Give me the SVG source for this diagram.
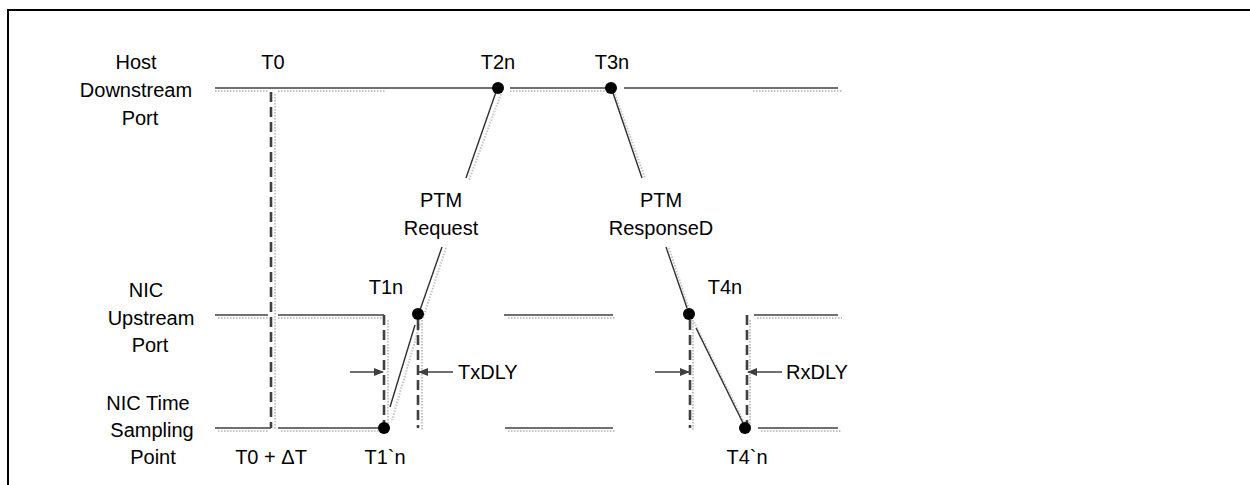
<svg xmlns="http://www.w3.org/2000/svg" width="1250" height="485" viewBox="0 0 1250 485">
<style>
text{font-family:"Liberation Sans",Arial,sans-serif;font-size:20px;fill:#000;text-anchor:middle}
.ln{stroke:#404040;stroke-width:1.6;fill:none}
.sh{stroke:#c4c4c4;stroke-width:2;stroke-dasharray:1.5 1.5;fill:none}
.dash{stroke:#404040;stroke-width:2.6;stroke-dasharray:10 5;fill:none}
.diag{stroke:#303030;stroke-width:1.4;fill:none}
.arr{stroke:#404040;stroke-width:1.6;fill:none;marker-end:url(#ah)}
.dot{fill:#000}
</style>
<defs>
<marker id="ah" viewBox="0 0 10 10" refX="9" refY="5" markerWidth="10" markerHeight="10" markerUnits="userSpaceOnUse" orient="auto">
<path d="M0,1 L10,5 L0,9 Z" fill="#404040"/>
</marker>
</defs>
<rect x="8" y="10" width="1260" height="500" fill="#fff" stroke="#000" stroke-width="2"/>

<g id="labels-left">
<text x="136" y="69">Host</text>
<text x="136" y="97">Downstream</text>
<text x="140" y="125">Port</text>
<text x="146" y="297">NIC</text>
<text x="151" y="325">Upstream</text>
<text x="150" y="352">Port</text>
<text x="148" y="410">NIC Time</text>
<text x="152" y="437">Sampling</text>
<text x="153" y="464">Point</text>
</g>

<g id="shadows">
<line class="sh" x1="215" y1="91" x2="268" y2="91"/>
<line class="sh" x1="278" y1="91" x2="385" y2="91"/>
<line class="sh" x1="510" y1="91" x2="605" y2="91"/>
<line class="sh" x1="753" y1="91" x2="842" y2="91"/>
<line class="sh" x1="218" y1="318" x2="268" y2="318"/>
<line class="sh" x1="278" y1="318" x2="386" y2="318"/>
<line class="sh" x1="508" y1="318" x2="615" y2="318"/>
<line class="sh" x1="757" y1="318" x2="842" y2="318"/>
<line class="sh" x1="218" y1="431" x2="268" y2="431"/>
<line class="sh" x1="281" y1="431" x2="386" y2="431"/>
<line class="sh" x1="508" y1="431" x2="615" y2="431"/>
<line class="sh" x1="761" y1="431" x2="842" y2="431"/>
<line class="sh" x1="275" y1="94" x2="275" y2="430"/>
<line class="sh" x1="388" y1="320" x2="388" y2="430"/>
<line class="sh" x1="422" y1="320" x2="422" y2="430"/>
<line class="sh" x1="693" y1="320" x2="693" y2="430"/>
<line class="sh" x1="750" y1="320" x2="750" y2="430"/>
<line class="sh" x1="501" y1="94" x2="469" y2="180"/>
<line class="sh" x1="446" y1="248" x2="423" y2="318"/>
<line class="sh" x1="420" y1="324" x2="392" y2="420"/>
<line class="sh" x1="615" y1="94" x2="645" y2="178"/>
<line class="sh" x1="669" y1="248" x2="692" y2="318"/>
<line class="sh" x1="694" y1="322" x2="749" y2="432"/>
</g>

<g id="timelines">
<line class="ln" x1="215" y1="88" x2="493" y2="88"/>
<line class="ln" x1="510" y1="88" x2="606" y2="88"/>
<line class="ln" x1="624" y1="88" x2="838" y2="88"/>
<line class="ln" x1="215" y1="315" x2="268" y2="315"/>
<line class="ln" x1="278" y1="315" x2="384" y2="315"/>
<line class="ln" x1="504" y1="315" x2="613" y2="315"/>
<line class="ln" x1="754" y1="315" x2="838" y2="315"/>
<line class="ln" x1="215" y1="428" x2="271" y2="428"/>
<line class="ln" x1="278" y1="428" x2="383" y2="428"/>
<line class="ln" x1="505" y1="428" x2="613" y2="428"/>
<line class="ln" x1="758" y1="428" x2="838" y2="428"/>
</g>

<g id="connectors">
<line class="dash" x1="271" y1="92" x2="271" y2="428"/>
<line class="dash" x1="384" y1="315" x2="384" y2="428"/>
<line class="dash" x1="418" y1="320" x2="418" y2="428"/>
<line class="dash" x1="690" y1="320" x2="690" y2="428"/>
<line class="dash" x1="747" y1="315" x2="747" y2="428"/>
<line class="diag" x1="496" y1="92" x2="466" y2="178"/>
<line class="diag" x1="442" y1="247" x2="420" y2="310"/>
<line class="diag" x1="415" y1="325" x2="390" y2="407"/>
<line class="diag" x1="613" y1="93" x2="642" y2="178"/>
<line class="diag" x1="666" y1="247" x2="687" y2="308"/>
<line class="diag" x1="696" y1="328" x2="743" y2="423"/>
<line class="arr" x1="350" y1="372" x2="383" y2="372"/>
<line class="arr" x1="453" y1="372" x2="419" y2="372"/>
<line class="arr" x1="655" y1="372" x2="689" y2="372"/>
<line class="arr" x1="782" y1="372" x2="748" y2="372"/>
</g>

<g id="T0"><text x="273" y="69">T0</text></g>
<g id="T2n"><circle class="dot" cx="498" cy="88" r="6"/><text x="498" y="69">T2n</text></g>
<g id="T3n"><circle class="dot" cx="611" cy="88" r="6"/><text x="612" y="69">T3n</text></g>
<g id="T1n"><circle class="dot" cx="418" cy="314" r="6"/><text x="386" y="294">T1n</text></g>
<g id="T4n"><circle class="dot" cx="689" cy="314" r="6"/><text x="725" y="294">T4n</text></g>
<g id="T1pn"><circle class="dot" cx="384" cy="428" r="6"/><text x="385" y="464">T1`n</text></g>
<g id="T4pn"><circle class="dot" cx="745" cy="428" r="6"/><text x="747" y="464">T4`n</text></g>
<g id="T0dT"><text x="271" y="464">T0 + ΔT</text></g>
<g id="TxDLY"><text x="458" y="379" style="text-anchor:start">TxDLY</text></g>
<g id="RxDLY"><text x="786" y="379" style="text-anchor:start">RxDLY</text></g>
<g id="PTMReq"><text x="441" y="207">PTM</text><text x="441" y="235">Request</text></g>
<g id="PTMResp"><text x="661" y="207">PTM</text><text x="661" y="235">ResponseD</text></g>
</svg>
